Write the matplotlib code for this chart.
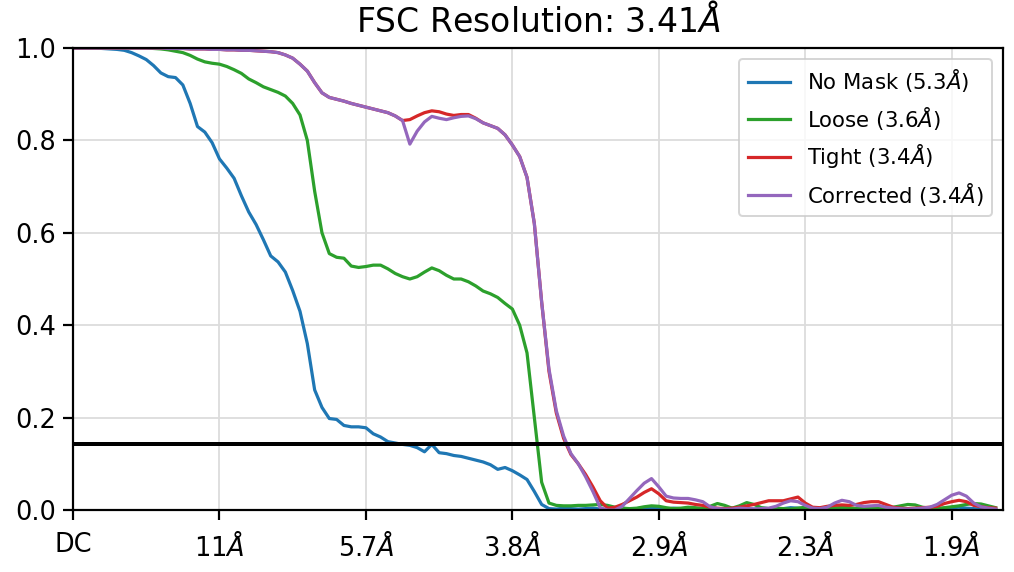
import numpy as np
import matplotlib
matplotlib.use('Agg')
import matplotlib.pyplot as plt

# FSC curves, one value per Fourier shell (0..126)
no_mask = [
    1.0, 1.0, 1.0, 1.0, 0.999, 0.998, 0.997, 0.995, 0.99, 0.983,
    0.975, 0.962, 0.946, 0.938, 0.936, 0.92, 0.88, 0.83, 0.818, 0.795,
    0.76, 0.74, 0.718, 0.68, 0.645, 0.618, 0.585, 0.55, 0.537, 0.515,
    0.475, 0.43, 0.36, 0.26, 0.222, 0.198, 0.196, 0.183, 0.18, 0.18,
    0.178, 0.165, 0.158, 0.148, 0.145, 0.142, 0.14, 0.135, 0.126, 0.142,
    0.124, 0.122, 0.118, 0.116, 0.112, 0.108, 0.104, 0.098, 0.088, 0.092,
    0.085, 0.076, 0.066, 0.04, 0.012, 0.003, 0.002, 0.004, 0.003, 0.002,
    0.003, 0.004, 0.002, 0.001, 0.003, 0.004, 0.002, 0.003, 0.005, 0.004,
    0.003, 0.002, 0.004, 0.003, 0.002, 0.003, 0.004, 0.002, 0.001, 0.003,
    0.004, 0.002, 0.003, 0.002, 0.004, 0.003, 0.002, 0.003, 0.005, 0.004,
    0.003, 0.002, 0.001, 0.003, 0.004, 0.003, 0.002, 0.003, 0.002, 0.004,
    0.003, 0.002, 0.003, 0.001, 0.002, 0.003, 0.004, 0.002, 0.003, 0.004,
    0.005, 0.006, 0.004, 0.003, 0.002, 0.002, 0.001,
]

loose = [
    1.0, 1.0, 1.0, 1.0, 1.0, 1.0, 1.0, 1.0, 1.0, 1.0,
    1.0, 0.999, 0.998, 0.996, 0.993, 0.99, 0.984, 0.976, 0.97, 0.967,
    0.965, 0.96, 0.953, 0.945, 0.933, 0.925, 0.916, 0.91, 0.904, 0.896,
    0.88, 0.855, 0.80, 0.69, 0.60, 0.555, 0.547, 0.545, 0.528, 0.525,
    0.527, 0.53, 0.53, 0.522, 0.512, 0.505, 0.5, 0.505, 0.515, 0.524,
    0.518, 0.508, 0.5, 0.5, 0.494, 0.485, 0.474, 0.468, 0.46, 0.447,
    0.435, 0.4, 0.34, 0.2, 0.06, 0.015, 0.01, 0.009, 0.009, 0.01,
    0.01, 0.011, 0.012, 0.01, 0.006, 0.004, 0.003, 0.004, 0.007, 0.009,
    0.008, 0.005, 0.003, 0.004, 0.006, 0.005, 0.003, 0.008, 0.014, 0.01,
    0.004, 0.009, 0.016, 0.012, 0.005, 0.003, 0.004, 0.003, 0.002, 0.004,
    0.006, 0.005, 0.003, 0.002, 0.004, 0.006, 0.005, 0.003, 0.004, 0.006,
    0.005, 0.004, 0.006, 0.009, 0.012, 0.011, 0.006, 0.004, 0.003, 0.005,
    0.007, 0.009, 0.012, 0.014, 0.013, 0.009, 0.005,
]

tight = [
    1.0, 1.0, 1.0, 1.0, 1.0, 1.0, 1.0, 1.0, 1.0, 1.0,
    1.0, 1.0, 1.0, 0.999, 0.999, 0.999, 0.998, 0.998, 0.998, 0.997,
    0.997, 0.996, 0.996, 0.995, 0.995, 0.994, 0.993, 0.992, 0.99, 0.985,
    0.978, 0.965, 0.95, 0.925, 0.903, 0.893, 0.889, 0.885, 0.88, 0.876,
    0.872, 0.868, 0.864, 0.86, 0.853, 0.843, 0.845, 0.853, 0.86, 0.864,
    0.862, 0.857, 0.854, 0.856, 0.856, 0.848, 0.838, 0.832, 0.826, 0.812,
    0.79, 0.765, 0.72, 0.62, 0.45, 0.3, 0.21, 0.155, 0.12, 0.1,
    0.077, 0.05, 0.02, 0.004, 0.006, 0.012, 0.02, 0.028, 0.038, 0.046,
    0.035, 0.02, 0.017, 0.016, 0.015, 0.012, 0.01, 0.006, 0.004, 0.003,
    0.004, 0.006, 0.009, 0.012, 0.016, 0.02, 0.02, 0.02, 0.024, 0.028,
    0.015, 0.006, 0.005, 0.008, 0.01, 0.011, 0.01, 0.012, 0.016, 0.018,
    0.018, 0.012, 0.006, 0.004, 0.003, 0.004, 0.005, 0.006, 0.008, 0.014,
    0.018, 0.021, 0.018, 0.01, 0.007, 0.005, 0.004,
]

corrected = [
    1.0, 1.0, 1.0, 1.0, 1.0, 1.0, 1.0, 1.0, 1.0, 1.0,
    1.0, 1.0, 1.0, 0.999, 0.999, 0.999, 0.998, 0.998, 0.998, 0.997,
    0.997, 0.996, 0.996, 0.995, 0.995, 0.994, 0.993, 0.992, 0.99, 0.985,
    0.978, 0.965, 0.95, 0.925, 0.903, 0.893, 0.889, 0.885, 0.88, 0.876,
    0.872, 0.868, 0.864, 0.86, 0.853, 0.843, 0.792, 0.82, 0.84, 0.852,
    0.848, 0.845, 0.849, 0.852, 0.853, 0.847, 0.838, 0.832, 0.826, 0.812,
    0.79, 0.765, 0.72, 0.62, 0.45, 0.305, 0.215, 0.16, 0.122, 0.1,
    0.072, 0.04, 0.005, 0.0, 0.0, 0.008, 0.025, 0.042, 0.058, 0.068,
    0.05, 0.03, 0.026, 0.025, 0.025, 0.022, 0.018, 0.007, 0.003, 0.002,
    0.002, 0.004, 0.003, 0.002, 0.003, 0.004, 0.008, 0.015, 0.02, 0.018,
    0.01, 0.004, 0.003, 0.006, 0.015, 0.021, 0.018, 0.01, 0.008, 0.009,
    0.01, 0.006, 0.004, 0.003, 0.002, 0.003, 0.004, 0.006, 0.012, 0.022,
    0.032, 0.037, 0.03, 0.015, 0.007, 0.004, 0.002,
]

labels = ['No Mask (5.3$\\AA$)', 'Loose (3.6$\\AA$)', 'Tight (3.4$\\AA$)', 'Corrected (3.4$\\AA$)']
tick_pos = [0, 20, 40, 60, 80, 100, 120]
tick_labels = ['DC', '11$\\AA$', '5.7$\\AA$', '3.8$\\AA$', '2.9$\\AA$', '2.3$\\AA$', '1.9$\\AA$']
threshold = 0.143

fig = plt.figure(figsize=(1014 / 144, 572 / 144), dpi=144)
ax = fig.add_axes([73 / 1014, 1 - 510 / 572, 930 / 1014, 462 / 572])

shells = np.arange(len(no_mask))
for curve, lab, col in zip([no_mask, loose, tight, corrected], labels,
                           ['tab:blue', 'tab:green', 'tab:red', 'tab:purple']):
    ax.plot(shells, curve, color=col, label=lab, lw=1.6)

ax.axhline(threshold, color='black', lw=2)

ax.set_xlim(0, 127)
ax.set_ylim(0, 1)
ax.set_xticks(tick_pos)
ax.set_xticklabels(tick_labels)
ax.set_yticks([0.0, 0.2, 0.4, 0.6, 0.8, 1.0])
ax.tick_params(labelsize=12.8, length=5, width=1.1)
ax.tick_params(axis='x', pad=6)
for sp in ax.spines.values():
    sp.set_linewidth(1.1)
ax.grid(True, color='#dcdcdc', lw=0.9)
ax.set_axisbelow(True)
ax.set_title('FSC Resolution: 3.41$\\AA$', fontsize=16.5, pad=8)
ax.legend(loc='upper right', fontsize=10.6)

fig.savefig('out.png', dpi=144)
